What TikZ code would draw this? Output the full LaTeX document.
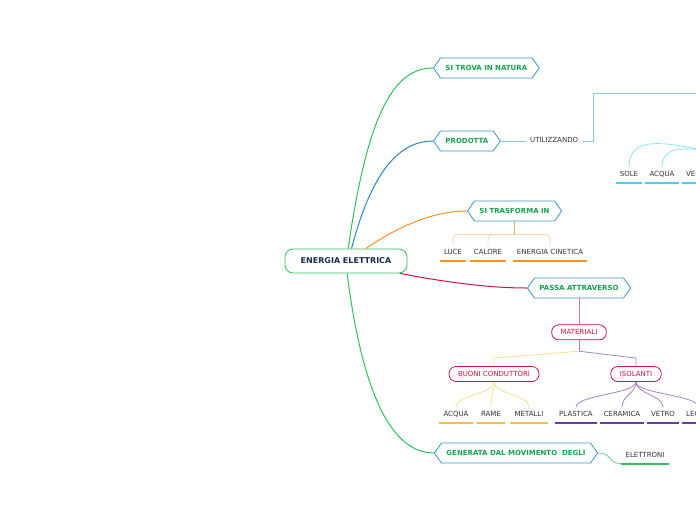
\documentclass[tikz,border=0pt]{standalone}
\usepackage{fontspec}
\setmainfont{DejaVu Sans}
\usetikzlibrary{shapes.symbols,positioning}
\definecolor{MMgreen}{HTML}{2EC05C}
\definecolor{MMblue}{HTML}{2A85C4}
\definecolor{MMorange}{HTML}{F7941D}
\definecolor{MMred}{HTML}{D2123F}
\definecolor{MMhex}{HTML}{3B95CB}
\definecolor{MMtext}{HTML}{16A34E}
\definecolor{MMnavy}{HTML}{1B2A50}
\definecolor{MMgray}{HTML}{333333}
\definecolor{MMlblue}{HTML}{8CC7E6}
\definecolor{MMcyan}{HTML}{3FD3EE}
\definecolor{MMpaleorange}{HTML}{FAD3AA}
\definecolor{MMyellow}{HTML}{F4E08C}
\definecolor{MMgold}{HTML}{F2C33A}
\definecolor{MMpurple}{HTML}{A584C4}
\definecolor{MMdpurple}{HTML}{6C3D96}
\definecolor{MMpink}{HTML}{E0708C}
\tikzset{mmroot/.style={draw=MMgreen,thick,rounded corners=8pt,fill=white,
 minimum width=122pt,minimum height=24pt,text=MMnavy,font=\fontsize{8}{10}\selectfont\bfseries},
 mmhex/.style={signal,signal to=west and east,signal pointer angle=110,draw=MMhex,
 thick,fill=white,text=MMtext,minimum height=20pt,inner xsep=5pt,
 font=\fontsize{7}{8}\selectfont\bfseries},
 mmbox/.style={draw=MMred,thick,rounded corners=7pt,fill=white,text=MMred,
 minimum height=15pt,inner xsep=9pt,font=\fontsize{7}{8}\selectfont},
 mmleaf/.style={text=MMgray,inner xsep=4pt,inner ysep=4.5pt,text height=5pt,
 text depth=1.5pt,font=\fontsize{7}{8}\selectfont},
 mmul/.style={draw=#1,line width=2pt},
 mmline/.style={draw=#1,line width=1pt}}
\begin{document}
\begin{tikzpicture}[x=1pt,y=-1pt]
\useasboundingbox (0,0) rectangle (696,520);
\clip (0,0) rectangle (696,520);
% central topic and main branches
\node[mmroot] (root) at (346,261) {ENERGIA ELETTRICA};
\node[mmhex,anchor=west] (natura) at (433,68) {SI TROVA IN NATURA};
\node[mmhex,anchor=west] (prodotta) at (433,141) {PRODOTTA};
\node[mmhex,anchor=west] (trasforma) at (467,211) {SI TRASFORMA IN};
\node[mmhex,anchor=west] (passa) at (527,288) {PASSA ATTRAVERSO};
\node[mmhex,anchor=west] (generata) at (434,453) {GENERATA DAL MOVIMENTO \ DEGLI};
\draw[mmline=MMgreen] (root.80) .. controls (368,110) and (395,68) .. (natura.west);
\draw[mmline=MMblue] (root.66) .. controls (372,170) and (400,141) .. (prodotta.west);
\draw[mmline=MMorange] (root.32) .. controls (400,225) and (435,211) .. (trasforma.west);
\draw[mmline=MMred] (root.-13) .. controls (455,284) and (495,288) .. (passa.west);
\draw[mmline=MMgreen] (root.-85) .. controls (362,390) and (390,453) .. (generata.west);
% prodotta
\node[mmleaf,anchor=west] (util) at (526,141) {UTILIZZANDO};
\coordinate (fonti) at (760,93);
\coordinate (rinnov) at (740,154);
\draw[MMlblue,thick] (prodotta.east) -- (util.west);
\draw[MMlblue,thick] (util.east) -- ++(11,0) |- (fonti);
\node[mmleaf] (sole) at (629,175) {SOLE};
\node[mmleaf] (acqua1) at (662,175) {ACQUA};
\node[mmleaf,anchor=west] (vento) at (682,175) {VENTO};
\foreach \n in {sole,acqua1,vento}
 \draw[MMcyan!60,thick] (rinnov) to[out=180,in=90] (\n.north);
% si trasforma in
\node[mmleaf] (luce) at (453,253) {LUCE};
\node[mmleaf] (calore) at (488,253) {CALORE};
\node[mmleaf] (cinetica) at (550,253) {ENERGIA CINETICA};
\coordinate (tsplit) at ([yshift=-13pt]trasforma.south);
\draw[MMorange!80,thick] (trasforma.south) -- (tsplit);
\foreach \n in {luce,calore,cinetica}
 \draw[MMpaleorange,thick,rounded corners=5pt] (tsplit) -| (\n.north);
% passa attraverso
\node[mmbox,below=26pt of passa] (materiali) {MATERIALI};
\node[mmbox] (buoni) at (494,374) {BUONI CONDUTTORI};
\node[mmbox] (isolanti) at (636,374) {ISOLANTI};
\coordinate (msplit) at ([yshift=-11pt]materiali.south);
\draw[MMpink,thick] (passa.south) -- (materiali.north);
\draw[MMyellow,thick] (msplit) -- ([yshift=8pt]buoni.north) -- (buoni.north);
\draw[MMpurple,thick] (msplit) -- ([yshift=8pt]isolanti.north) -- (isolanti.north);
\draw[MMpurple,thick] (materiali.south) -- (msplit);
\node[mmleaf] (acqua2) at (456,415) {ACQUA};
\node[mmleaf] (rame) at (491,415) {RAME};
\node[mmleaf] (metalli) at (529,415) {METALLI};
\node[mmleaf] (plastica) at (576,415) {PLASTICA};
\node[mmleaf] (ceramica) at (622,415) {CERAMICA};
\node[mmleaf] (vetro) at (663,415) {VETRO};
\node[mmleaf,anchor=west] (legno) at (682,415) {LEGNO};
\foreach \n in {acqua2,rame,metalli}
 \draw[MMyellow,thick] (buoni.south) .. controls ([yshift=-12pt]buoni.south) and ([yshift=12pt]\n.north) .. (\n.north);
\foreach \n in {plastica,ceramica,vetro,legno}
 \draw[MMpurple,thick] (isolanti.south) .. controls ([yshift=-12pt]isolanti.south) and ([yshift=12pt]\n.north) .. (\n.north);
% generata dal movimento degli
\node[mmleaf] (elettroni) at (645,456) {ELETTRONI};
\draw[MMgreen!70,thick] (generata.east) .. controls (612,453) and (608,463) .. (elettroni.south west);
% underlines
\foreach \n/\c in {sole/MMcyan,acqua1/MMcyan,vento/MMcyan,luce/MMorange,
 calore/MMorange,cinetica/MMorange,acqua2/MMgold,rame/MMgold,metalli/MMgold,
 plastica/MMdpurple,ceramica/MMdpurple,vetro/MMdpurple,legno/MMdpurple,
 elettroni/MMgreen}
 \draw[mmul=\c] (\n.south west) -- (\n.south east);
\end{tikzpicture}
\end{document}
